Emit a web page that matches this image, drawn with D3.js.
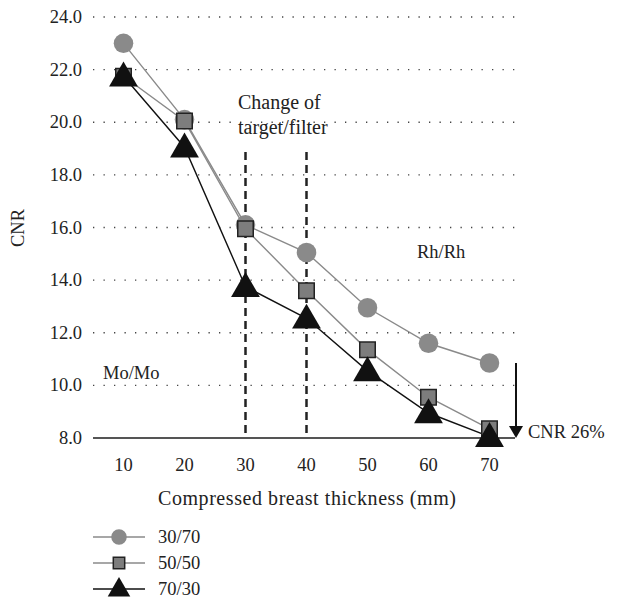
<!DOCTYPE html>
<html><head><meta charset="utf-8">
<script src="https://cdn.jsdelivr.net/npm/d3@7"></script>
<style>body{margin:0;background:#fff}svg{display:block}text{font-family:"Liberation Serif","DejaVu Serif",serif;fill:#222}</style>
</head><body>
<svg id="c" width="622" height="603"></svg>
<script>
const categories = [10, 20, 30, 40, 50, 60, 70];
const s3070 = [23.0, 20.1, 16.1, 15.05, 12.95, 11.6, 10.85];
const s5050 = [21.75, 20.05, 15.95, 13.6, 11.35, 9.55, 8.35];
const s7030 = [21.75, 19.05, 13.75, 12.55, 10.55, 8.95, 8.05];
const yTicks = [8, 10, 12, 14, 16, 18, 20, 22, 24];
const seriesNames = ["30/70", "50/50", "70/30"];
const changeAt = [30, 40];

const FS = 18.5, FA = 20;
const svg = d3.select("#c");
const x = d3.scaleBand().domain(categories).range([93, 520]);
const y = d3.scaleLinear().domain([8, 24]).range([438, 17]);
const cx = d => x(d) + x.bandwidth() / 2;

// grid
svg.append("g").selectAll("line").data(yTicks.filter(t => t > 8)).join("line")
  .attr("x1", 93).attr("x2", 515).attr("y1", d => y(d)).attr("y2", d => y(d))
  .attr("stroke", "#444").attr("stroke-width", 1.3).attr("stroke-dasharray", "1.3,9.2");
// y tick labels
svg.append("g").selectAll("text").data(yTicks).join("text")
  .attr("x", 82).attr("y", d => y(d) + 6).attr("text-anchor", "end")
  .attr("font-size", FS).text(d => d.toFixed(1));
// baseline
svg.append("line").attr("x1", 93).attr("x2", 515).attr("y1", y(8)).attr("y2", y(8))
  .attr("stroke", "#555").attr("stroke-width", 2);
// x tick labels
svg.append("g").selectAll("text").data(categories).join("text")
  .attr("x", d => cx(d)).attr("y", 471).attr("text-anchor", "middle")
  .attr("font-size", FS).text(d => d);
// axis titles
svg.append("text").attr("x", 307).attr("y", 505).attr("text-anchor", "middle")
  .attr("font-size", FA).attr("textLength", 298).text("Compressed breast thickness (mm)");
svg.append("text").attr("transform", "translate(24,228) rotate(-90)").attr("text-anchor", "middle")
  .attr("font-size", FS).text("CNR");

// dashed verticals
svg.append("g").selectAll("line").data(changeAt).join("line")
  .attr("x1", d => cx(d)).attr("x2", d => cx(d)).attr("y1", 152).attr("y2", y(8))
  .attr("stroke", "#222").attr("stroke-width", 2.5).attr("stroke-dasharray", "8,5");

// annotations
svg.append("text").attr("x", 238).attr("y", 109).attr("font-size", FA).text("Change of");
svg.append("text").attr("x", 238).attr("y", 134).attr("font-size", FA).text("target/filter");
svg.append("text").attr("x", 417).attr("y", 258).attr("font-size", FS).text("Rh/Rh");
svg.append("text").attr("x", 103).attr("y", 379).attr("font-size", FS).text("Mo/Mo");
svg.append("text").attr("x", 528).attr("y", 438).attr("font-size", FS).text("CNR 26%");
// arrow
svg.append("line").attr("x1", 516).attr("x2", 516).attr("y1", 363).attr("y2", 428)
  .attr("stroke", "#111").attr("stroke-width", 2);
svg.append("path").attr("d", "M509,426 L523,426 L516,438 Z").attr("fill", "#111");

const line = d3.line().x((d, i) => cx(categories[i])).y(d => y(d));
const series = [
  {vals: s3070, color: "#8a8a8a", sym: d3.symbolCircle, size: 300, fill: "#8a8a8a", stroke: "none"},
  {vals: s5050, color: "#8a8a8a", sym: d3.symbolSquare, size: 240, fill: "#7d7d7d", stroke: "#222"},
  {vals: s7030, color: "#111", sym: d3.symbolTriangle, size: 360, fill: "#111", stroke: "none"}
];
series.forEach(s => {
  svg.append("path").datum(s.vals).attr("d", line).attr("fill", "none")
    .attr("stroke", s.color).attr("stroke-width", 1.4);
});
series.forEach(s => {
  svg.append("g").selectAll("path").data(s.vals).join("path")
    .attr("transform", (d, i) => `translate(${cx(categories[i])},${y(d) + (s.sym === d3.symbolTriangle ? 2 : 0)})`)
    .attr("d", d3.symbol(s.sym, s.size)).attr("fill", s.fill)
    .attr("stroke", s.stroke).attr("stroke-width", 1.5);
});

// legend
const ly = [537, 563, 589];
series.forEach((s, i) => {
  const g = svg.append("g");
  g.append("line").attr("x1", 93).attr("x2", 145).attr("y1", ly[i]).attr("y2", ly[i])
    .attr("stroke", s.color).attr("stroke-width", 1.4);
  g.append("path").attr("transform", `translate(119,${ly[i] + (s.sym === d3.symbolTriangle ? 1 : 0)})`)
    .attr("d", d3.symbol(s.sym, s.sym === d3.symbolCircle ? 190 : (s.sym === d3.symbolSquare ? 130 : 220)))
    .attr("fill", s.fill).attr("stroke", s.stroke).attr("stroke-width", 1.5);
  g.append("text").attr("x", 158).attr("y", ly[i] + 6).attr("font-size", FS).text(seriesNames[i]);
});
</script>
</body></html>
